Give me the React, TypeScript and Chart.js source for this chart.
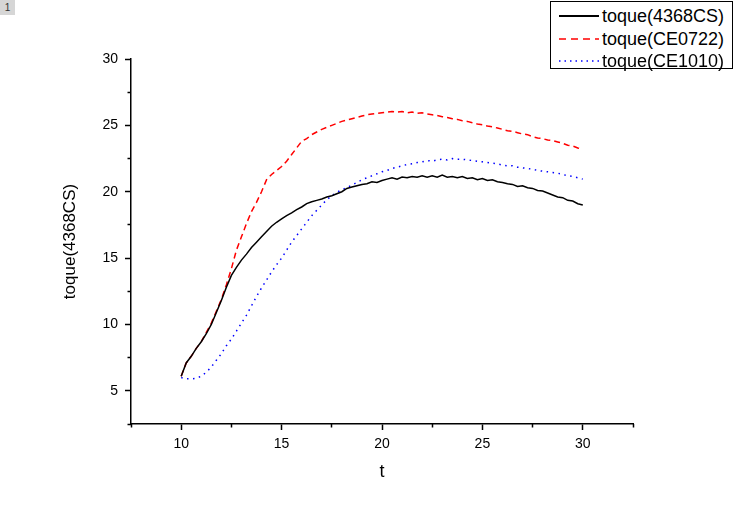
import React, { useEffect, useRef } from 'react';
import { Chart, registerables } from 'chart.js';

Chart.register(...registerables);

// ---- data ----
const tValues = [
  10, 10.25, 10.5, 10.75,
  11, 11.25, 11.5, 11.75,
  12, 12.25, 12.5, 12.75,
  13, 13.25, 13.5, 13.75,
  14, 14.25, 14.5, 14.75,
  15, 15.25, 15.5, 15.75,
  16, 16.25, 16.5, 16.75,
  17, 17.25, 17.5, 17.75,
  18, 18.25, 18.5, 18.75,
  19, 19.25, 19.5, 19.75,
  20, 20.25, 20.5, 20.75,
  21, 21.25, 21.5, 21.75,
  22, 22.25, 22.5, 22.75,
  23, 23.25, 23.5, 23.75,
  24, 24.25, 24.5, 24.75,
  25, 25.25, 25.5, 25.75,
  26, 26.25, 26.5, 26.75,
  27, 27.25, 27.5, 27.75,
  28, 28.25, 28.5, 28.75,
  29, 29.25, 29.5, 29.75,
  30,
];

const toque4368CS = [
  6.1, 7.1, 7.6, 8.2,
  8.7, 9.3, 10.0, 10.9,
  11.8, 12.8, 13.7, 14.3,
  14.85, 15.3, 15.8, 16.2,
  16.6, 17.0, 17.4, 17.7,
  17.95, 18.2, 18.4, 18.65,
  18.85, 19.1, 19.25, 19.35,
  19.45, 19.6, 19.7, 19.85,
  20.0, 20.25, 20.35, 20.45,
  20.55, 20.6, 20.75, 20.7,
  20.85, 20.95, 21.05, 20.95,
  21.1, 21.05, 21.15, 21.1,
  21.2, 21.1, 21.2, 21.1,
  21.25, 21.1, 21.15, 21.05,
  21.15, 21.0, 21.05, 20.9,
  21.0, 20.85, 20.9, 20.75,
  20.7, 20.6, 20.55, 20.4,
  20.45, 20.3, 20.25, 20.1,
  20.05, 19.9, 19.75, 19.6,
  19.55, 19.35, 19.3, 19.1,
  19.0,
];

const toqueCE0722 = [
  6.1, 7.1, 7.6, 8.2,
  8.7, 9.4, 10.1, 11.0,
  11.9, 13.0, 14.2, 15.6,
  16.6, 17.6, 18.5, 19.2,
  20.0, 20.9, 21.3, 21.6,
  21.9, 22.3, 22.8, 23.3,
  23.8, 24.0, 24.3, 24.5,
  24.7, 24.85, 25.0, 25.15,
  25.3, 25.4, 25.5, 25.6,
  25.7, 25.8, 25.85, 25.9,
  25.95, 26.0, 26.05, 26.0,
  26.05, 25.95, 26.0, 25.9,
  25.95, 25.85, 25.8, 25.75,
  25.65, 25.6, 25.5, 25.45,
  25.35, 25.3, 25.2, 25.1,
  25.05, 24.95, 24.9, 24.8,
  24.7, 24.6, 24.55, 24.45,
  24.35, 24.3, 24.15, 24.05,
  24.0, 23.9, 23.85, 23.75,
  23.65, 23.5, 23.45, 23.3,
  23.2,
];

const toqueCE1010 = [
  6.0, 5.9, 5.9, 5.95,
  6.1, 6.4, 6.8, 7.3,
  7.8, 8.4, 8.9, 9.5,
  10.1, 10.7, 11.4, 12.1,
  12.75, 13.35, 13.95, 14.5,
  15.0, 15.6, 16.2, 16.7,
  17.2, 17.7, 18.2, 18.6,
  19.0, 19.4, 19.7, 19.95,
  20.15, 20.3, 20.5, 20.7,
  20.9, 21.05, 21.2, 21.35,
  21.5, 21.6, 21.75, 21.85,
  21.95, 22.05, 22.1, 22.2,
  22.25, 22.35, 22.3, 22.4,
  22.45, 22.4, 22.5, 22.45,
  22.45, 22.4, 22.35, 22.3,
  22.25, 22.2, 22.15, 22.1,
  22.0, 21.95, 21.95, 21.85,
  21.8, 21.75, 21.7, 21.6,
  21.55, 21.5, 21.45, 21.4,
  21.3, 21.2, 21.15, 21.05,
  20.95,
];

const seriesLabels = ['toque(4368CS)', 'toque(CE0722)', 'toque(CE1010)'];
const xMajorTicks = [10, 15, 20, 25, 30];
const xMinorTicks = [7.5, 12.5, 17.5, 22.5, 27.5, 32.5];
const yMajorTicks = [5, 10, 15, 20, 25, 30];
const yMinorTicks = [2.5, 7.5, 12.5, 17.5, 22.5, 27.5];
const xRange = [7.5, 32.5];
const yRange = [2.5, 30];
const xTitle = 't';
const yTitle = 'toque(4368CS)';

const FONT = '"Liberation Sans", Arial, sans-serif';

const toPoints = (ys: number[]) => ys.map((y, i) => ({ x: tValues[i], y }));

export default function App() {
  const canvasRef = useRef<HTMLCanvasElement | null>(null);

  useEffect(() => {
    if (!canvasRef.current) return;
    const tickFont = { family: FONT, size: 14 };
    const chart = new Chart(canvasRef.current, {
      type: 'line',
      data: {
        datasets: [
          {
            label: seriesLabels[0],
            data: toPoints(toque4368CS),
            borderColor: '#000000',
            borderWidth: 1.5,
            pointRadius: 0,
            tension: 0,
            fill: false,
          },
          {
            label: seriesLabels[1],
            data: toPoints(toqueCE0722),
            borderColor: '#ff0000',
            borderWidth: 1.5,
            borderDash: [6, 4],
            pointRadius: 0,
            tension: 0,
            fill: false,
          },
          {
            label: seriesLabels[2],
            data: toPoints(toqueCE1010),
            borderColor: '#0000ff',
            borderWidth: 1.5,
            borderDash: [1.5, 4.5],
            pointRadius: 0,
            tension: 0,
            fill: false,
          },
        ],
      },
      options: {
        animation: false,
        responsive: true,
        maintainAspectRatio: false,
        layout: { padding: { left: 0, top: 59, right: 101, bottom: 0 } },
        plugins: { legend: { display: false }, tooltip: { enabled: false } },
        scales: {
          x: {
            type: 'linear',
            position: 'bottom',
            weight: 1,
            min: xRange[0],
            max: xRange[1],
            afterBuildTicks: (s: any) => { s.ticks = xMajorTicks.map((v) => ({ value: v })); },
            afterFit: (s: any) => { s.height = 86; },
            grid: { drawOnChartArea: false, drawTicks: true, tickLength: 6, tickWidth: 1.5, tickColor: '#000' },
            border: { display: true, color: '#000', width: 1.5 },
            ticks: { color: '#000', font: tickFont, padding: 6, maxRotation: 0, autoSkip: false },
            title: { display: true, text: xTitle, color: '#000', font: { family: FONT, size: 18 }, padding: { top: 0, bottom: 27 } },
          },
          xMinor: {
            type: 'linear',
            position: 'bottom',
            weight: 0,
            min: xRange[0],
            max: xRange[1],
            afterBuildTicks: (s: any) => { s.ticks = xMinorTicks.map((v) => ({ value: v })); },
            afterFit: (s: any) => { s.height = 0; },
            grid: { drawOnChartArea: false, drawTicks: true, tickLength: 3.5, tickWidth: 1.5, tickColor: '#000' },
            border: { display: false },
            ticks: { display: false },
          },
          y: {
            type: 'linear',
            position: 'left',
            weight: 1,
            min: yRange[0],
            max: yRange[1],
            afterBuildTicks: (s: any) => { s.ticks = yMajorTicks.map((v) => ({ value: v })); },
            afterFit: (s: any) => { s.width = 131; },
            grid: { drawOnChartArea: false, drawTicks: true, tickLength: 6, tickWidth: 1.5, tickColor: '#000' },
            border: { display: true, color: '#000', width: 1.5 },
            ticks: { color: '#000', font: tickFont, padding: 7, autoSkip: false },
            title: { display: true, text: yTitle, color: '#000', font: { family: FONT, size: 17 }, padding: { top: 60, bottom: 0 } },
          },
          yMinor: {
            type: 'linear',
            position: 'left',
            weight: 0,
            min: yRange[0],
            max: yRange[1],
            afterBuildTicks: (s: any) => { s.ticks = yMinorTicks.map((v) => ({ value: v })); },
            afterFit: (s: any) => { s.width = 0; },
            grid: { drawOnChartArea: false, drawTicks: true, tickLength: 3.5, tickWidth: 1.5, tickColor: '#000' },
            border: { display: false },
            ticks: { display: false },
          },
        },
      },
    } as any);
    return () => chart.destroy();
  }, []);

  const legendRow = (i: number, dash: string | undefined, color: string) => (
    <div key={i} style={{ position: 'absolute', left: 0, top: 3 + i * 22.5, height: 22, width: 182 }}>
      <svg width={44} height={22} style={{ position: 'absolute', left: 6, top: 0 }}>
        <line x1={2} y1={11} x2={42} y2={11} stroke={color} strokeWidth={i === 0 ? 2 : 1.6} strokeDasharray={dash} />
      </svg>
      <span style={{ position: 'absolute', left: 51, top: 0, lineHeight: '22px', fontSize: 18, fontFamily: FONT, color: '#000', whiteSpace: 'nowrap' }}>
        {seriesLabels[i]}
      </span>
    </div>
  );

  return (
    <div style={{ position: 'absolute', left: 0, top: 0, width: 734, height: 510, background: '#fff', overflow: 'hidden' }}>
      <canvas ref={canvasRef} />
      <div style={{ position: 'absolute', left: 0, top: 0, width: 15, height: 15, background: '#d6d6d6', color: '#333', fontFamily: FONT, fontSize: 10, lineHeight: '15px', textAlign: 'center' }}>1</div>
      <div style={{ position: 'absolute', left: 550, top: 1, width: 183, height: 68, border: '1px solid #000', boxSizing: 'border-box', background: '#fff' }}>
        {legendRow(0, undefined, '#000')}
        {legendRow(1, '7 5', '#ff0000')}
        {legendRow(2, '1.5 4', '#0000ff')}
      </div>
    </div>
  );
}
